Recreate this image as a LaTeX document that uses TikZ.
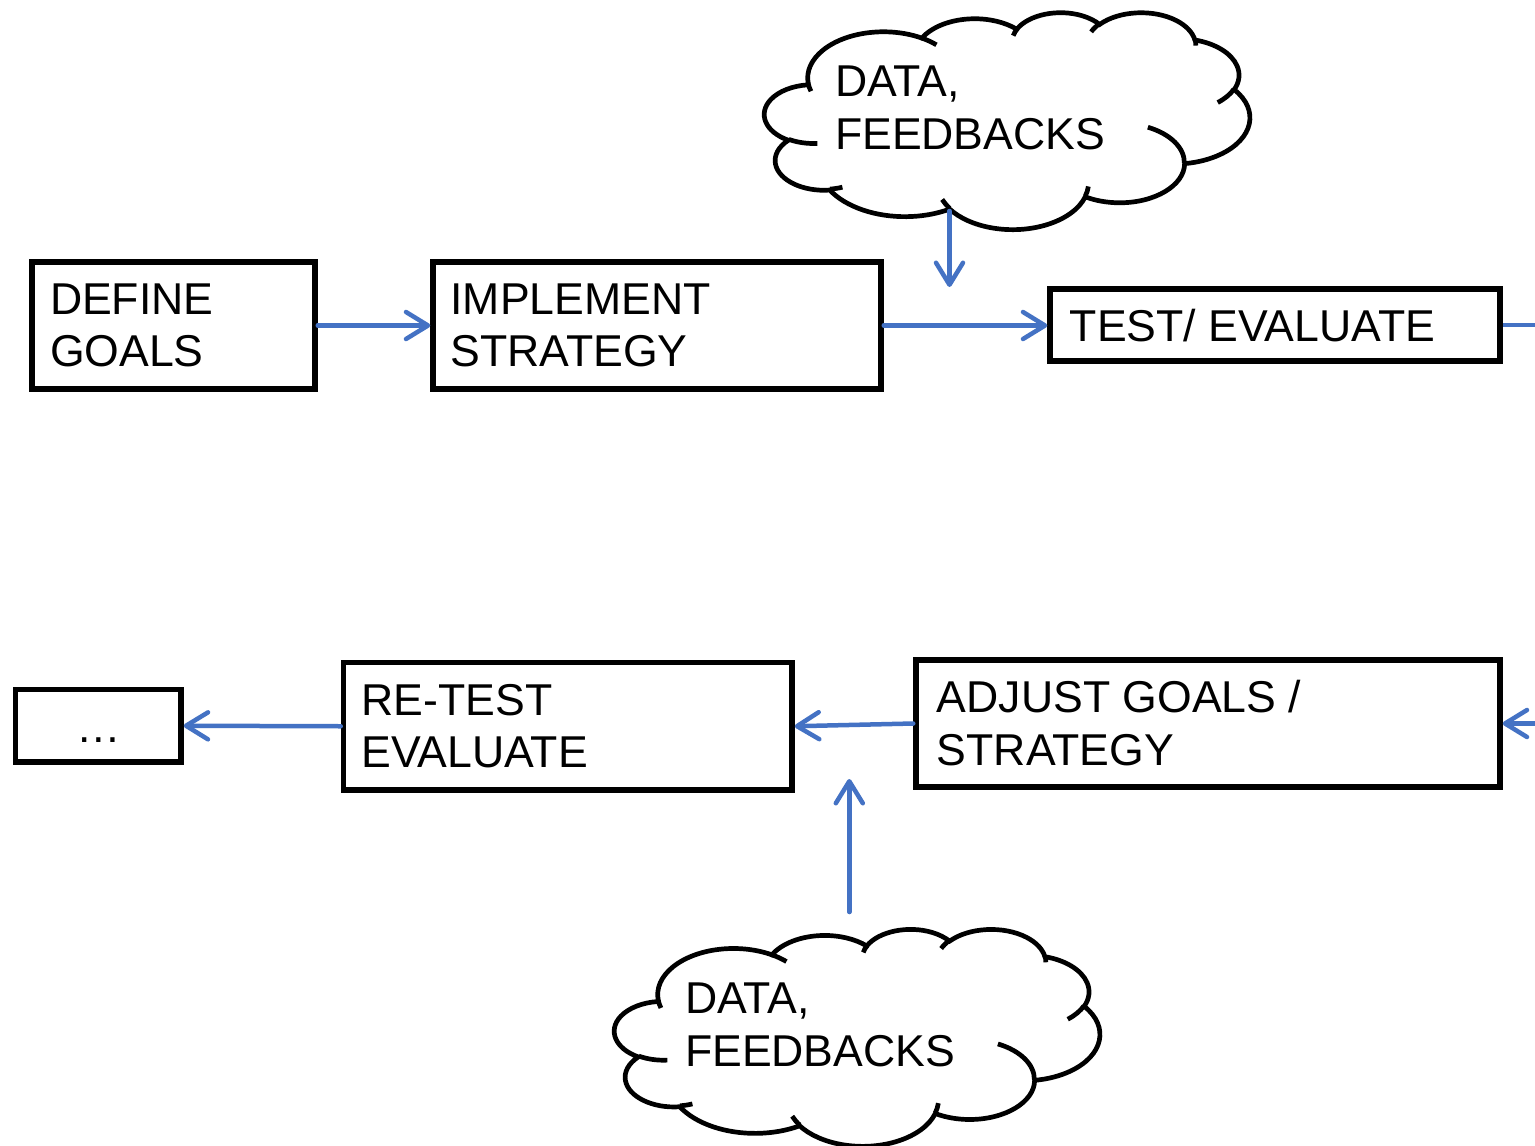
\documentclass[tikz,border=0pt]{standalone}
\usepackage{fontspec}
\setmainfont{Liberation Sans}
\usetikzlibrary{arrows.meta}
\definecolor{flowblue}{HTML}{4472C4}
% one arc of the cloud outline: x radius, y radius, visual start angle, sweep
\newcommand\cloudarc[4]{arc[x radius=#1, y radius=#2, start angle={vt(#1,#2,#3)}, end angle={vt(#1,#2,#3+#4)}]}
\newcommand\cloudoutline{(39.00,143.70)
 \cloudarc{67.53}{91.90}{-190.4875}{123.7805}
 \cloudarc{53.33}{72.67}{-144.1024}{89.9452}
 \cloudarc{43.65}{59.45}{-145.8079}{99.7230}
 \cloudarc{48.57}{65.95}{-130.9861}{117.2417}
 \cloudarc{53.33}{72.73}{-78.7089}{109.0269}
 \cloudarc{67.75}{92.20}{-46.2673}{130.2690}
 \cloudarc{57.85}{78.67}{0.6250}{114.0333}
 \cloudarc{67.52}{92.15}{22.4516}{115.1726}
 \cloudarc{77.20}{105.43}{66.2426}{75.7110}
 \cloudarc{43.60}{59.18}{-274.9421}{146.7356}
 \cloudarc{43.45}{59.45}{-246.8285}{152.5189} -- cycle}
\newcommand\cloudticks{%
 (46.93,261.77) \cloudarc{43.45}{59.45}{86.7420}{26.4295}
 (69.28,348.99) \cloudarc{43.60}{59.18}{73.6105}{11.4475}
 (164.78,390.90) \cloudarc{67.52}{92.15}{137.6242}{14.0811}
 (288.27,347.51) \cloudarc{67.52}{92.15}{6.4533}{15.9984}
 (341.29,229.54) \cloudarc{57.85}{78.67}{-70.2924}{70.9174}
 (417.98,153.54) \cloudarc{53.33}{72.73}{30.3180}{27.7515}
 (383.24,54.26) \cloudarc{48.57}{65.95}{-13.7443}{14.8589}
 (290.78,39.52) \cloudarc{48.57}{65.95}{-149.1815}{18.1954}
 (221.41,47.20) \cloudarc{43.65}{59.45}{-163.4943}{17.6864}
 (140.00,51.92) \cloudarc{67.53}{91.90}{-66.7070}{12.3194}
 (41.27,157.89) \cloudarc{67.53}{91.90}{157.6544}{11.8582}}
\begin{document}
\begin{tikzpicture}[x=1pt, y=-1pt,
  declare function={vt(\w,\h,\a)=\a+atan2((\w-\h)*sin(\a)*cos(\a),\h*cos(\a)*cos(\a)+\w*sin(\a)*sin(\a));},
  box/.style={draw=black, line width=5.5pt, inner sep=0pt, fill=white},
  txt/.style={inner sep=0pt, anchor=base west, font=\fontsize{44.6}{52.8}\selectfont},
  arr/.style={draw=flowblue, line width=4.5pt, line cap=round,
    -{Straight Barb[length=22pt, width=27pt, line cap=round, line join=round]}},
  link/.style={draw=flowblue, line width=4.5pt},
  cloudline/.style={draw=black, line width=4.7pt},
  cloudpart/.style={x=1.123pt, y=-0.502pt}]
\useasboundingbox[fill=white] (0,0) rectangle (1535,1146);

% boxes
\node[box, minimum width=283pt, minimum height=127pt] (dg) at (173.5,325.5) {};
\node[box, minimum width=448pt, minimum height=127pt] (is) at (657,325.5) {};
\node[box, minimum width=450pt, minimum height=72pt] (te) at (1275,325) {};
\node[box, minimum width=165.5pt, minimum height=72.5pt] (dots) at (98.25,725.75) {};
\node[box, minimum width=448.5pt, minimum height=127.5pt] (rt) at (567.75,726.25) {};
\node[box, minimum width=584pt, minimum height=127pt] (ag) at (1208,723.5) {};

% box texts
\node[txt] (dgt) at (49.8,314) {\begin{tabular}[t]{@{}l@{}}DEFINE\\GOALS\end{tabular}};
\node[txt] (ist) at (450.3,314) {\begin{tabular}[t]{@{}l@{}}IMPLEMENT\\STRATEGY\end{tabular}};
\node[txt] (tet) at (1069.7,341) {TEST/ EVALUATE};
\node[txt, anchor=base] (dotst) at (98.5,742.7) {…};
\node[txt] (rtt) at (361.4,715) {\begin{tabular}[t]{@{}l@{}}RE-TEST\\EVALUATE\end{tabular}};
\node[txt] (agt) at (936.7,712.3) {\begin{tabular}[t]{@{}l@{}}ADJUST GOALS /\\STRATEGY\end{tabular}};

% clouds
\begin{scope}[shift={(764.6pt,-12pt)}, cloudpart]
  \fill[white] \cloudoutline;
  \draw[cloudline] \cloudoutline;
  \draw[cloudline] \cloudticks;
\end{scope}
\begin{scope}[shift={(614.6pt,-928.7pt)}, cloudpart]
  \fill[white] \cloudoutline;
  \draw[cloudline] \cloudoutline;
  \draw[cloudline] \cloudticks;
\end{scope}
\node[txt] (c1t) at (834.8,96.7) {\begin{tabular}[t]{@{}l@{}}DATA,\\FEEDBACKS\end{tabular}};
\node[txt] (c2t) at (684.8,1013.3) {\begin{tabular}[t]{@{}l@{}}DATA,\\FEEDBACKS\end{tabular}};

% free ends
\coordinate (c1out) at (949.5,211);
\coordinate (dntip) at (949.5,287);
\coordinate (c2out) at (849.3,912);
\coordinate (uptip) at (849.3,779);
\coordinate (offr1) at (1545,325);
\coordinate (offr2) at (1545,723.5);

% connectors
\draw[arr] (dg.east) -- (is.west);
\draw[arr] (is.east) -- (is.east -| te.west);
\draw[link] (te.east) -- (offr1);
\draw[arr] (offr2) -- (ag.east);
\draw[arr] (ag.west) -- (rt.east);
\draw[arr] (rt.west) -- (dots.east);
\draw[arr] (c1out) -- (dntip);
\draw[arr] (c2out) -- (uptip);
\end{tikzpicture}
\end{document}
